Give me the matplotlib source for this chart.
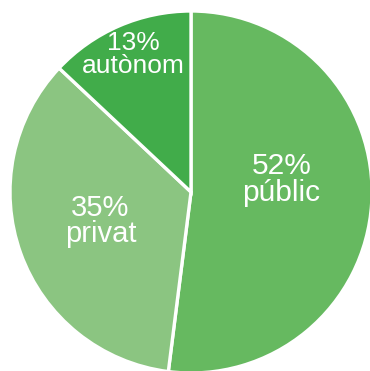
import matplotlib.pyplot as plt

# Distribució per sector
sectors = ['públic', 'privat', 'autònom']
percent = [52, 35, 13]
colors = ['#66b960', '#8bc581', '#41ac4a']

plt.rcParams['font.family'] = ['Liberation Sans', 'DejaVu Sans']

fig = plt.figure(figsize=(3.70, 3.71), dpi=100)
ax = fig.add_axes([10 / 370, -2 / 371, 362 / 370, 362 / 371])

ax.pie(percent, colors=colors, startangle=90, counterclock=False, radius=1,
       wedgeprops={'edgecolor': 'white', 'linewidth': 2.4})

# etiquetes dins de cada sector
label_pos = [(0.50, 0.07), (-0.50, -0.16), (-0.32, 0.76)]
label_size = [21.5, 21, 19]
for name, p, (x, y), fs in zip(sectors, percent, label_pos, label_size):
    ax.text(x, y, f'{p}%\n{name}', ha='center', va='center', color='white',
            fontsize=fs, linespacing=0.95)

ax.set_xlim(-1, 1)
ax.set_ylim(-1, 1)
ax.set_aspect('equal')
ax.axis('off')

fig.savefig('out.png', dpi=100)
